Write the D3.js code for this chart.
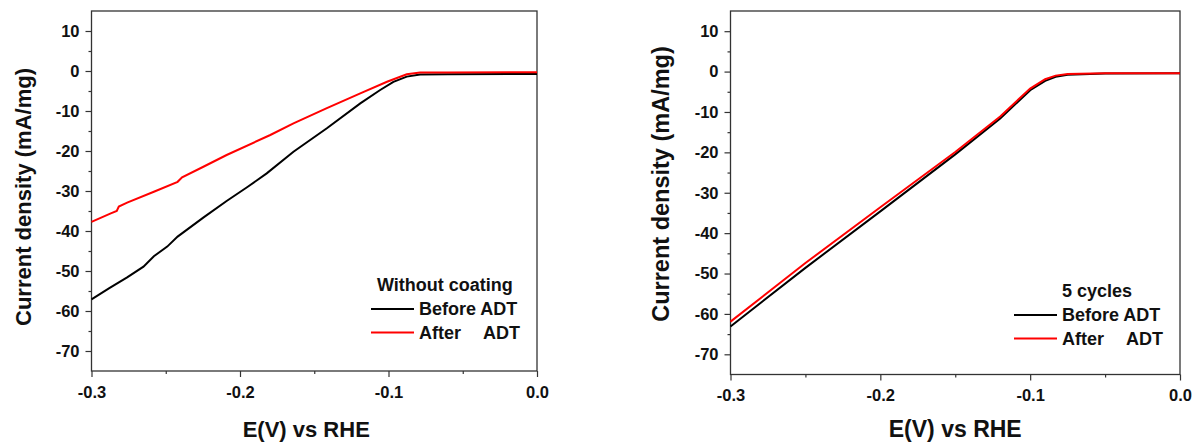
<!DOCTYPE html>
<html>
<head>
<meta charset="utf-8">
<script src="https://cdn.jsdelivr.net/npm/d3@7"></script>
<style>
  body { margin: 0; background: #fff; }
  svg { display: block; }
  text { font-family: "Liberation Sans", Arial, sans-serif; font-weight: bold; fill: #111; }
</style>
</head>
<body>
<div id="chart"></div>
<script>
// Polarization curves, before / after ADT
// left: without coating, right: 5 cycles

// Left panel data (E in V vs RHE, j in mA/mg)
const leftBeforeE = [-0.3, -0.288, -0.276, -0.265, -0.258, -0.249, -0.242, -0.2245, -0.209, -0.195, -0.182, -0.164, -0.1415, -0.119, -0.1056, -0.0967, -0.0877, -0.0787, -0.06, 0];
const leftBeforeJ = [-57.1, -54.3, -51.6, -48.9, -46.3, -43.9, -41.4, -36.6, -32.5, -29, -25.6, -20.2, -14.3, -8.1, -4.75, -2.7, -1.4, -0.9, -0.8, -0.75];
const leftAfterE = [-0.3, -0.287, -0.283, -0.2816, -0.276, -0.258, -0.242, -0.239, -0.225, -0.209, -0.1796, -0.164, -0.1415, -0.119, -0.101, -0.0877, -0.0787, -0.06, 0];
const leftAfterJ = [-37.7, -35.6, -35.0, -33.9, -32.9, -30.2, -27.7, -26.6, -24, -21, -16, -13.1, -9.3, -5.6, -2.7, -0.8, -0.4, -0.35, -0.3];

// Right panel data
const rightE = [-0.3, -0.25, -0.2, -0.15, -0.12, -0.1, -0.09, -0.083, -0.075, -0.05, 0];
const rightBeforeJ = [-63.1, -48.6, -34.6, -20.5, -11.6, -4.6, -2.3, -1.3, -0.8, -0.5, -0.4];
const rightAfterJ = [-61.9, -47.4, -33.6, -19.9, -11.1, -4.2, -1.9, -1.0, -0.6, -0.4, -0.4];

// Axis ticks
const xMajor = [-0.3, -0.2, -0.1, 0.0];
const xMinor = [-0.25, -0.15, -0.05];
const yMajor = [10, 0, -10, -20, -30, -40, -50, -60, -70];
const yMinor = [5, -5, -15, -25, -35, -45, -55, -65];

const xLabel = "E(V) vs RHE";
const yLabel = "Current density (mA/mg)";
const seriesNames = ["Before ADT", "After"];
const legendTitles = ["Without coating", "5 cycles"];

const colBefore = "#000000";
const colAfter = "#ff0000";

// plain hyphen instead of d3's unicode minus
const fmtX = d => d3.format(".1f")(d).replace("\u2212", "-");
const fmtY = d => String(d);

const svg = d3.select("#chart")
    .append("svg")
    .attr("width", 1194)
    .attr("height", 443);

// one panel
function drawPanel(opt) {
    const x = d3.scaleLinear().domain([-0.3, 0]).range([opt.x0, opt.x1]);
    const y = d3.scaleLinear().domain([-75, 15]).range([opt.y1, opt.y0]);
    const g = svg.append("g");

    // frame
    g.append("rect")
        .attr("x", opt.x0).attr("y", opt.y0)
        .attr("width", opt.x1 - opt.x0).attr("height", opt.y1 - opt.y0)
        .attr("fill", "none").attr("stroke", "#333").attr("stroke-width", 1.3);

    // x axis
    const xAxis = g.append("g")
        .attr("transform", `translate(0,${opt.y1})`)
        .call(d3.axisBottom(x).tickValues(xMajor).tickSize(6).tickPadding(9)
            .tickFormat(fmtX));
    xAxis.append("g")
        .call(d3.axisBottom(x).tickValues(xMinor).tickSize(3).tickFormat(""));
    g.selectAll(".domain").remove();

    // y axis
    const yAxis = g.append("g")
        .attr("transform", `translate(${opt.x0},0)`)
        .call(d3.axisLeft(y).tickValues(yMajor).tickSize(6).tickPadding(6)
            .tickFormat(fmtY));
    yAxis.append("g")
        .call(d3.axisLeft(y).tickValues(yMinor).tickSize(3).tickFormat(""));
    g.selectAll(".domain").remove();

    g.selectAll(".tick line").attr("stroke", "#333").attr("stroke-width", 1.2);
    g.selectAll(".tick text")
        .style("font-family", "Liberation Sans, Arial, sans-serif")
        .style("font-weight", "bold")
        .style("font-size", "16.5px")
        .attr("fill", "#111");

    // curves
    const line = d3.line().x(d => x(d[0])).y(d => y(d[1]));
    g.append("path")
        .datum(d3.zip(opt.beforeE, opt.beforeJ))
        .attr("d", line)
        .attr("fill", "none").attr("stroke", colBefore).attr("stroke-width", 2);
    g.append("path")
        .datum(d3.zip(opt.afterE, opt.afterJ))
        .attr("d", line)
        .attr("fill", "none").attr("stroke", colAfter).attr("stroke-width", 2);

    // axis titles
    g.append("text")
        .attr("x", (opt.x0 + opt.x1) / 2 + opt.xLabDx)
        .attr("y", opt.xLabY)
        .attr("text-anchor", "middle")
        .style("font-size", opt.xLabSize + "px")
        .text(xLabel);
    g.append("text")
        .attr("transform", `translate(${opt.yLabX},${opt.yLabY}) rotate(-90)`)
        .attr("text-anchor", "middle")
        .attr("dy", "0.35em")
        .style("font-size", opt.yLabSize + "px")
        .text(yLabel);

    // legend
    const lg = g.append("g").style("font-size", "18px");
    lg.append("text").attr("x", opt.lx + opt.titleDx).attr("y", opt.ly).text(opt.title);
    [colBefore, colAfter].forEach((c, i) => {
        const yy = opt.ly + 18 + i * 23.5;
        lg.append("line")
            .attr("x1", opt.lx - 48).attr("x2", opt.lx - 5)
            .attr("y1", yy).attr("y2", yy)
            .attr("stroke", c).attr("stroke-width", 2);
        lg.append("text").attr("x", opt.lx).attr("y", yy + 6).text(seriesNames[i]);
    });
    lg.append("text").attr("x", opt.lx + 101).attr("y", opt.ly + 18 + 23.5 + 6)
        .attr("text-anchor", "end").text("ADT");
}

drawPanel({
    x0: 91.5, x1: 537, y0: 11, y1: 371,
    beforeE: leftBeforeE, beforeJ: leftBeforeJ,
    afterE: leftAfterE, afterJ: leftAfterJ,
    xLabDx: -8, xLabY: 437, xLabSize: 22,
    yLabX: 23, yLabY: 197, yLabSize: 22,
    lx: 419, ly: 291, title: legendTitles[0], titleDx: -42
});

drawPanel({
    x0: 730.5, x1: 1180, y0: 11, y1: 374.5,
    beforeE: rightE, beforeJ: rightBeforeJ,
    afterE: rightE, afterJ: rightAfterJ,
    xLabDx: 0, xLabY: 437, xLabSize: 23,
    yLabX: 661, yLabY: 184, yLabSize: 23.5,
    lx: 1062, ly: 297, title: legendTitles[1], titleDx: 0
});
</script>
</body>
</html>
